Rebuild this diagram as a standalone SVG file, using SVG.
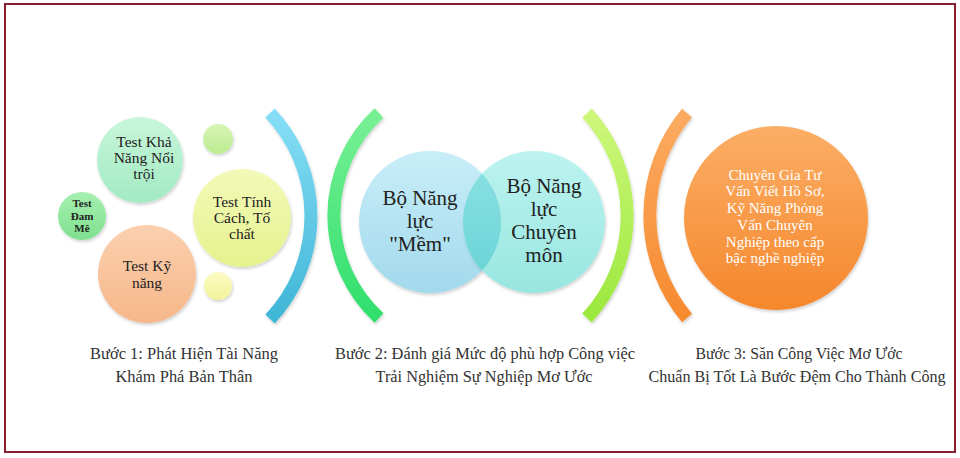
<svg xmlns="http://www.w3.org/2000/svg" width="960" height="458" viewBox="0 0 960 458">
<defs>
<style>
.t{font-family:"Liberation Serif","DejaVu Serif",serif;fill:#222;text-anchor:middle}
.w{font-family:"Liberation Serif","DejaVu Serif",serif;fill:#fff;text-anchor:middle}
.cap{font-family:"Liberation Serif","DejaVu Serif",serif;fill:#333;text-anchor:middle;font-size:16px}
.arc{fill:none;stroke-width:13;filter:url(#sh)}
.c{filter:url(#sh)}
</style>
<filter id="sh" x="-20%" y="-20%" width="140%" height="140%">
<feDropShadow dx="1" dy="2" stdDeviation="1.5" flood-color="#000" flood-opacity="0.18"/>
</filter>
<linearGradient id="gBlue" x1="0" y1="0" x2="0" y2="1"><stop offset="0" stop-color="#86def6"/><stop offset="1" stop-color="#3fb6d6"/></linearGradient>
<linearGradient id="gGreen" x1="0" y1="0" x2="0" y2="1"><stop offset="0" stop-color="#78f095"/><stop offset="1" stop-color="#2fdf6c"/></linearGradient>
<linearGradient id="gLime" x1="0" y1="0" x2="0" y2="1"><stop offset="0" stop-color="#cdf77a"/><stop offset="1" stop-color="#9be83e"/></linearGradient>
<linearGradient id="gOrange" x1="0" y1="0" x2="0" y2="1"><stop offset="0" stop-color="#fbab62"/><stop offset="1" stop-color="#f68a2e"/></linearGradient>
<linearGradient id="gMint" x1="0" y1="0" x2="0" y2="1"><stop offset="0" stop-color="#c8f6da"/><stop offset="1" stop-color="#a2eac2"/></linearGradient>
<linearGradient id="gDam" x1="0" y1="0" x2="0" y2="1"><stop offset="0" stop-color="#a6f0b0"/><stop offset="1" stop-color="#7fe08f"/></linearGradient>
<linearGradient id="gPeach" x1="0" y1="0" x2="0" y2="1"><stop offset="0" stop-color="#fbd0ae"/><stop offset="1" stop-color="#f6b78a"/></linearGradient>
<linearGradient id="gYel" x1="0" y1="0" x2="0" y2="1"><stop offset="0" stop-color="#f3f9b8"/><stop offset="1" stop-color="#e6f28e"/></linearGradient>
<linearGradient id="gSG" x1="0" y1="0" x2="0" y2="1"><stop offset="0" stop-color="#d6f5b4"/><stop offset="1" stop-color="#bdec92"/></linearGradient>
<linearGradient id="gSY" x1="0" y1="0" x2="0" y2="1"><stop offset="0" stop-color="#fbfbc4"/><stop offset="1" stop-color="#f2f29a"/></linearGradient>
<linearGradient id="gSky" x1="0" y1="0" x2="0" y2="1"><stop offset="0" stop-color="#c8eef8"/><stop offset="1" stop-color="#a2d9ec"/></linearGradient>
<linearGradient id="gAqua" x1="0" y1="0" x2="0" y2="1"><stop offset="0" stop-color="#bdf3f0"/><stop offset="1" stop-color="#98e6e0"/></linearGradient>
<linearGradient id="gOv" x1="0" y1="0" x2="0" y2="1"><stop offset="0" stop-color="#8ee2e4"/><stop offset="1" stop-color="#66d2d4"/></linearGradient>
<linearGradient id="gOC" x1="0" y1="0" x2="0" y2="1"><stop offset="0" stop-color="#fbae66"/><stop offset="1" stop-color="#f5872c"/></linearGradient>
<clipPath id="clipL"><circle cx="430" cy="222" r="71"/></clipPath>
</defs>

<rect x="5" y="4" width="950" height="448" fill="#fff" stroke="#8b1c2c" stroke-width="2"/>

<g id="connectors">
<path class="arc" d="M270,113 A150,150 0 0 1 270,319" stroke="url(#gBlue)"/>
<path class="arc" d="M379,113 A139,139 0 0 0 379,318" stroke="url(#gGreen)"/>
<path class="arc" d="M587,113 A151,151 0 0 1 587,318" stroke="url(#gLime)"/>
<path class="arc" d="M687,113 A160,160 0 0 0 687,318" stroke="url(#gOrange)"/>
</g>

<g id="step1">
<g id="n-khanang"><circle class="c" cx="140" cy="160" r="43" fill="url(#gMint)"/>
<text class="t" font-size="15.5"><tspan x="144" y="147">Test Khả</tspan><tspan x="144" y="163">Năng Nổi</tspan><tspan x="144" y="179">trội</tspan></text></g>
<g id="n-damme"><circle class="c" cx="82" cy="216" r="24" fill="url(#gDam)"/>
<text class="t" font-size="11" font-weight="bold"><tspan x="82" y="207">Test</tspan><tspan x="82" y="220">Đam</tspan><tspan x="82" y="232">Mê</tspan></text></g>
<g id="n-kynang"><circle class="c" cx="147" cy="274" r="49" fill="url(#gPeach)"/>
<text class="t" font-size="15.5"><tspan x="147" y="271">Test Kỹ</tspan><tspan x="147" y="288">năng</tspan></text></g>
<g id="n-tinhcach"><circle class="c" cx="242" cy="218" r="49" fill="url(#gYel)"/>
<text class="t" font-size="15.5"><tspan x="242" y="207">Test Tính</tspan><tspan x="242" y="223">Cách, Tố</tspan><tspan x="242" y="239">chất</tspan></text></g>
<g id="n-dot1"><circle class="c" cx="218" cy="139" r="15" fill="url(#gSG)"/></g>
<g id="n-dot2"><circle class="c" cx="218" cy="286" r="14" fill="url(#gSY)"/></g>
</g>

<g id="step2">
<g id="n-mem"><circle class="c" cx="430" cy="222" r="71" fill="url(#gSky)"/></g>
<g id="n-chuyenmon"><circle class="c" cx="534" cy="222" r="71" fill="url(#gAqua)"/>
<circle cx="534" cy="222" r="71" fill="url(#gOv)" clip-path="url(#clipL)"/></g>
<text class="t" font-size="21"><tspan x="420" y="205">Bộ Năng</tspan><tspan x="420" y="228">lực</tspan><tspan x="420" y="251">"Mềm"</tspan></text>
<text class="t" font-size="21"><tspan x="544" y="193">Bộ Năng</tspan><tspan x="544" y="216">lực</tspan><tspan x="544" y="239">Chuyên</tspan><tspan x="544" y="262">môn</tspan></text>
</g>

<g id="step3">
<g id="n-chuyengia"><circle class="c" cx="776" cy="218" r="92" fill="url(#gOC)"/>
<text class="w" font-size="15"><tspan x="775" y="180">Chuyên Gia Tư</tspan><tspan x="775" y="196">Vấn Viết Hồ Sơ,</tspan><tspan x="775" y="213">Kỹ Năng Phỏng</tspan><tspan x="775" y="230">Vấn Chuyên</tspan><tspan x="775" y="247">Nghiệp theo cấp</tspan><tspan x="775" y="263">bậc nghề nghiệp</tspan></text></g>
</g>

<g id="captions">
<text class="cap" x="184" y="359" textLength="188" lengthAdjust="spacingAndGlyphs">Bước 1:  Phát Hiện Tài Năng</text>
<text class="cap" x="184" y="382" textLength="137" lengthAdjust="spacingAndGlyphs">Khám Phá Bản Thân</text>
<text class="cap" x="485" y="359" textLength="300" lengthAdjust="spacingAndGlyphs">Bước 2: Đánh giá Mức độ phù hợp Công việc</text>
<text class="cap" x="484" y="382" textLength="217" lengthAdjust="spacingAndGlyphs">Trải Nghiệm Sự Nghiệp Mơ Ước</text>
<text class="cap" x="799" y="359" textLength="207" lengthAdjust="spacingAndGlyphs">Bước 3: Săn Công Việc Mơ Ước</text>
<text class="cap" x="797" y="382" textLength="297" lengthAdjust="spacingAndGlyphs">Chuẩn Bị Tốt Là Bước Đệm Cho Thành Công</text>
</g>
</svg>
